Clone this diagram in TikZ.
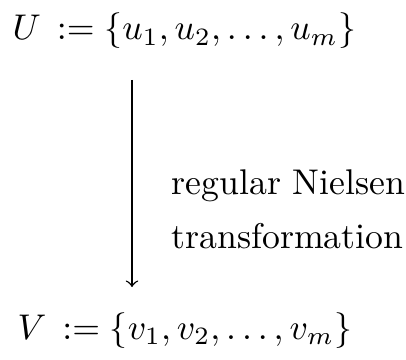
\documentclass[tikz,border=0pt]{standalone}
\begin{document}
\begin{tikzpicture}[x=0.28pt,y=-0.28pt]
\useasboundingbox (0,0) rectangle (406,359);
\tikzset{lbl/.style={inner sep=0pt}}
\node[lbl,anchor=base west] (u) at (12,40) {$U\,:=\{u_1,u_2,\ldots,u_m\}$};
\node[lbl,anchor=base west] (v) at (17,339) {$V\,:=\{v_1,v_2,\ldots,v_m\}$};
\coordinate (a) at (132,80);
\coordinate (b) at (132,287);
\draw[->] (a) -- (b);
\node[lbl,anchor=base west] (l1) at (171,195) {regular Nielsen};
\node[lbl,anchor=base west] (l2) at (171,249) {transformation};
\end{tikzpicture}
\end{document}
